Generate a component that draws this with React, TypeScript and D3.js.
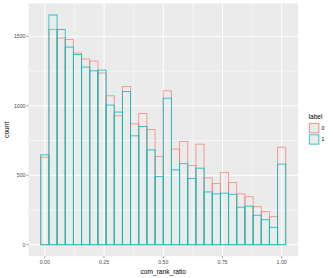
import React from 'react';
import * as d3 from 'd3';

// bin centres are i/29 (30 bins over [0,1])
const binCount = 30;
const counts0 = [630, 1550, 1488, 1478, 1380, 1337, 1322, 1236, 1072, 928, 1139, 870, 945, 829, 635,
  1108, 688, 743, 570, 724, 481, 440, 519, 447, 366, 346, 274, 238, 202, 702];
const counts1 = [647, 1654, 1550, 1423, 1370, 1279, 1252, 1257, 1005, 955, 1103, 784, 851, 683, 490,
  1055, 539, 584, 476, 551, 380, 366, 371, 363, 270, 277, 212, 180, 125, 580];
const xTicks = [0, 0.25, 0.5, 0.75, 1];
const yTicks = [0, 500, 1000, 1500];
const labels = ['0', '1'];
const colors = ['#F8766D', '#00BFC4'];

const W = 333;
const H = 278;
const panel = { left: 28.5, right: 298, top: 3.5, bottom: 256.2 };

export default function App() {
  const bw = 1 / (binCount - 1);
  const xMin = -bw / 2;
  const xMax = 1 + bw / 2;
  const xPad = (xMax - xMin) * 0.05;
  const x = d3.scaleLinear().domain([xMin - xPad, xMax + xPad]).range([panel.left, panel.right]);

  const yTop = d3.max([...counts0, ...counts1]) as number;
  const y = d3.scaleLinear().domain([-yTop * 0.05, yTop * 1.05]).range([panel.bottom, panel.top]);

  const minorX = xTicks.slice(0, -1).map((t, i) => (t + xTicks[i + 1]) / 2);
  const minorY = yTicks.slice(0, -1).map((t, i) => (t + yTicks[i + 1]) / 2);
  minorY.push(1750);

  const series = [counts0, counts1];
  const font = 'Liberation Sans, Arial, sans-serif';

  return (
    <svg width={W} height={H} style={{ position: 'absolute', left: 0, top: 0 }} fontFamily={font}>
      <rect x={0} y={0} width={W} height={H} fill="#ffffff" />
      <rect x={panel.left} y={panel.top} width={panel.right - panel.left} height={panel.bottom - panel.top} fill="#EBEBEB" />
      {minorX.map((t) => (
        <line key={'mx' + t} x1={x(t)} x2={x(t)} y1={panel.top} y2={panel.bottom} stroke="#fff" strokeWidth={0.5} />
      ))}
      {minorY.filter((t) => y(t) > panel.top).map((t) => (
        <line key={'my' + t} x1={panel.left} x2={panel.right} y1={y(t)} y2={y(t)} stroke="#fff" strokeWidth={0.5} />
      ))}
      {xTicks.map((t) => (
        <line key={'gx' + t} x1={x(t)} x2={x(t)} y1={panel.top} y2={panel.bottom} stroke="#fff" strokeWidth={1} />
      ))}
      {yTicks.map((t) => (
        <line key={'gy' + t} x1={panel.left} x2={panel.right} y1={y(t)} y2={y(t)} stroke="#fff" strokeWidth={1} />
      ))}

      {series.map((vals, s) => (
        <g key={s}>
          {vals.map((v, i) => {
            const c = i * bw;
            const x0 = x(c - bw / 2);
            const x1 = x(c + bw / 2);
            return (
              <rect key={i} x={x0} y={y(v)} width={x1 - x0} height={y(0) - y(v)}
                fill="none" stroke={colors[s]} strokeOpacity={s === 0 ? 0.75 : 0.9} strokeWidth={0.9} />
            );
          })}
        </g>
      ))}

      {/* axes */}
      {yTicks.map((t) => (
        <g key={'ty' + t}>
          <line x1={panel.left - 2} x2={panel.left} y1={y(t)} y2={y(t)} stroke="#333" strokeWidth={0.5} />
          <text x={panel.left - 3} y={y(t)} dy="0.35em" textAnchor="end" fontSize={5.2} fill="#4D4D4D">{t}</text>
        </g>
      ))}
      {xTicks.map((t) => (
        <g key={'tx' + t}>
          <line x1={x(t)} x2={x(t)} y1={panel.bottom} y2={panel.bottom + 2} stroke="#333" strokeWidth={0.5} />
          <text x={x(t)} y={panel.bottom + 7.5} textAnchor="middle" fontSize={5.2} fill="#4D4D4D">{t.toFixed(2)}</text>
        </g>
      ))}
      <text x={(panel.left + panel.right) / 2} y={273.5} textAnchor="middle" fontSize={6.6} fill="#000">com_rank_ratio</text>
      <text transform={`translate(8.5,${(panel.top + panel.bottom) / 2}) rotate(-90)`} textAnchor="middle" fontSize={6.6} fill="#000">count</text>

      {/* legend */}
      <text x={308.5} y={119} fontSize={6.6} fill="#000">label</text>
      {labels.map((l, i) => (
        <g key={l}>
          <rect x={308.5} y={122.5 + i * 11.3} width={11.3} height={11.3} fill="#EBEBEB" />
          <rect x={309.5} y={123.5 + i * 11.3} width={9.3} height={9.3} fill="none" stroke={colors[i]} strokeOpacity={0.8} strokeWidth={0.9} />
          <text x={321.5} y={128.2 + i * 11.3} dy="0.35em" fontSize={5.2} fill="#000">{l}</text>
        </g>
      ))}
    </svg>
  );
}
